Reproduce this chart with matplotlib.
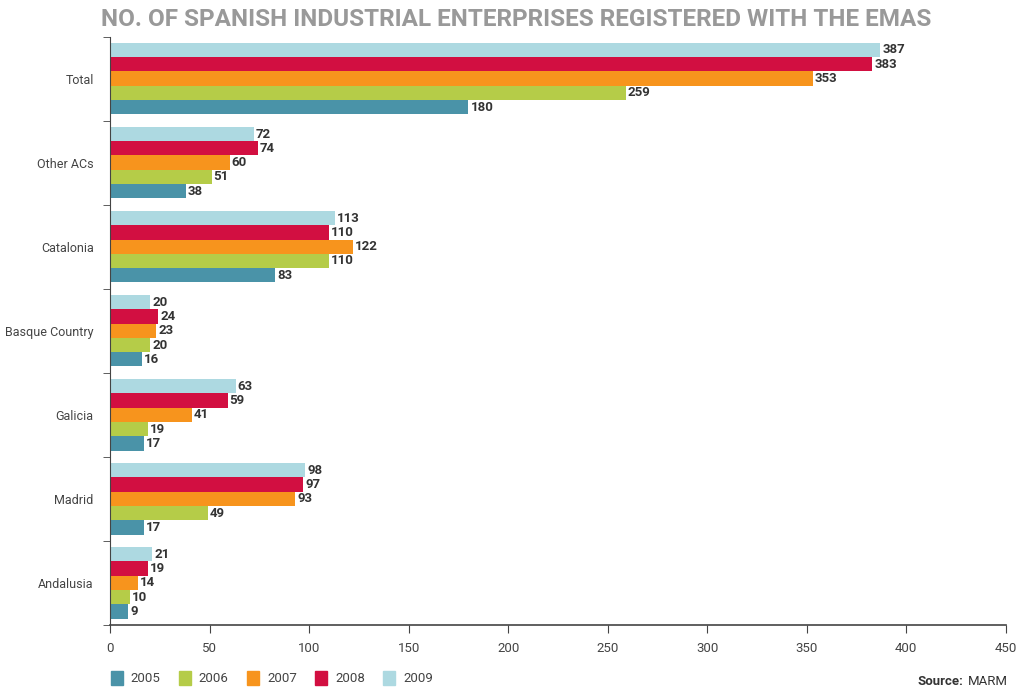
import matplotlib
matplotlib.use("Agg")
import matplotlib.pyplot as plt
import numpy as np
from matplotlib.patches import Patch

# regions, bottom to top as drawn
regions = ["Andalusia", "Madrid", "Galicia", "Basque Country", "Catalonia", "Other ACs", "Total"]
years = ["2005", "2006", "2007", "2008", "2009"]
v2005 = [9, 17, 17, 16, 83, 38, 180]
v2006 = [10, 49, 19, 20, 110, 51, 259]
v2007 = [14, 93, 41, 23, 122, 60, 353]
v2008 = [19, 97, 59, 24, 110, 74, 383]
v2009 = [21, 98, 63, 20, 113, 72, 387]
colors = ["#4a93a8", "#b5cc48", "#f7941d", "#d20f41", "#add9e1"]

plt.rcParams["font.family"] = ["Roboto", "DejaVu Sans"]

fig = plt.figure(figsize=(10.21, 6.89), dpi=100)
ax = fig.add_axes([0.108, 0.093, 0.877, 0.854])

series = [v2005, v2006, v2007, v2008, v2009]
bh = 0.17
y0 = np.arange(len(regions))
for i, (vals, c) in enumerate(zip(series, colors)):
    ys = y0 + (i - 2) * bh
    ax.barh(ys, vals, height=bh, color=c, label=years[i])
    for y, v in zip(ys, vals):
        ax.text(v + 1.0, y, str(v), va="center", ha="left", fontsize=9.5,
                fontweight="bold", color="#333333")

ax.set_ylim(-0.5, len(regions) - 0.5)
ax.set_xlim(0, 450)
ax.set_xticks(np.arange(0, 451, 50))
ax.set_yticks(y0)
ax.set_yticklabels(regions, fontsize=9, color="#444444")
ax.set_yticks(np.arange(-0.5, len(regions), 1.0), minor=True)
ax.tick_params(axis="y", which="major", length=0, pad=12)
ax.tick_params(axis="y", which="minor", length=5, direction="out", color="#444444")
ax.tick_params(axis="x", length=6, direction="out", labelsize=9.5, labelcolor="#444444",
               color="#444444", pad=6)
for s in ("top", "right"):
    ax.spines[s].set_visible(False)
ax.spines["left"].set_color("#444444")
ax.spines["bottom"].set_color("#444444")
ax.spines["bottom"].set_linewidth(1.2)

fig.text(0.506, 0.972, "NO. OF SPANISH INDUSTRIAL ENTERPRISES REGISTERED WITH THE EMAS",
         ha="center", va="center", fontsize=17.5, fontweight="bold", color="#999999")

handles = [Patch(color=c, label=y) for c, y in zip(colors, years)]
fig.legend(handles=handles, loc="lower left", bbox_to_anchor=(0.097, -0.012), ncol=5,
           frameon=False, fontsize=9.5, handlelength=0.9, handleheight=1.3,
           columnspacing=1.4, handletextpad=0.6, labelcolor="#444444")

fig.text(0.987, 0.002, "MARM", ha="right", va="bottom", fontsize=9.5, color="#333333")
fig.text(0.944, 0.002, "Source:", ha="right", va="bottom", fontsize=9.5,
         fontweight="bold", color="#333333")

fig.savefig("out.png", dpi=100)
